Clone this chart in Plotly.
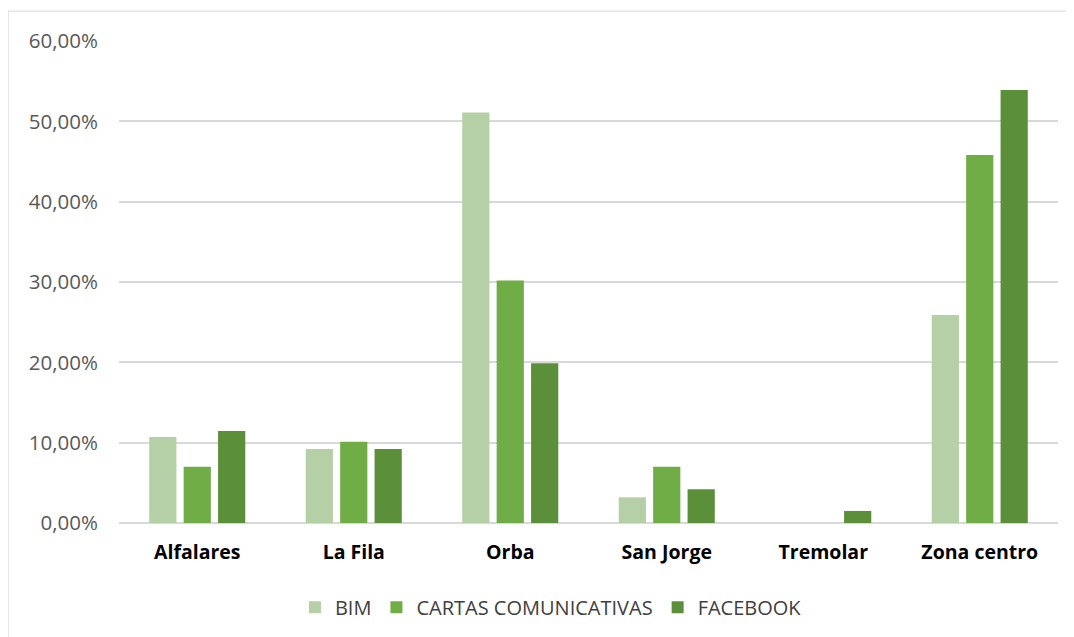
import plotly.graph_objects as go

categories = ["Alfalares", "La Fila", "Orba", "San Jorge", "Tremolar", "Zona centro"]
bim = [0.107, 0.092, 0.511, 0.032, 0.0, 0.259]
cartas = [0.070, 0.101, 0.302, 0.070, 0.0, 0.458]
facebook = [0.1145, 0.092, 0.199, 0.042, 0.015, 0.539]
series_names = ["BIM", "CARTAS COMUNICATIVAS", "FACEBOOK"]
colors = ["#B5CFA6", "#70AD47", "#5B8F3A"]

fig = go.Figure()
for name, vals, c in zip(series_names, [bim, cartas, facebook], colors):
    fig.add_trace(go.Bar(x=categories, y=vals, name=name,
                         marker=dict(color=c, line=dict(width=0))))

FONT = "Open Sans, sans-serif"
fig.update_layout(
    width=1074, height=637,
    margin=dict(l=111, r=24, t=33, b=122),
    paper_bgcolor="white", plot_bgcolor="white",
    separators=",.",
    barmode="group", bargap=0.34, bargroupgap=0.21,
    font=dict(family=FONT, color="#595959"),
    legend=dict(orientation="h", x=0.46, xanchor="center", y=-0.175, yanchor="middle",
                font=dict(size=20, color="#404040"), itemwidth=30, traceorder="normal"),
    shapes=[dict(type="rect", xref="paper", yref="paper",
                 x0=-0.118, x1=1.2, y0=-0.5, y1=1.062,
                 line=dict(color="#D9D9D9", width=1), layer="below")],
)
fig.update_yaxes(range=[0, 0.6], tickvals=[0, 0.1, 0.2, 0.3, 0.4, 0.5, 0.6], tickformat=".2%",
                 gridcolor="#D9D9D9", gridwidth=1.5, zeroline=True, zerolinecolor="#D9D9D9",
                 zerolinewidth=1.5, showline=False, tickfont=dict(size=20.5, color="#595959"),
                 ticklabelstandoff=20)
fig.update_xaxes(tickfont=dict(size=19.5, color="black", family=FONT),
                 showline=False, ticklabelstandoff=15, tickprefix="<b>", ticksuffix="</b>")
fig.write_html("out.html")
